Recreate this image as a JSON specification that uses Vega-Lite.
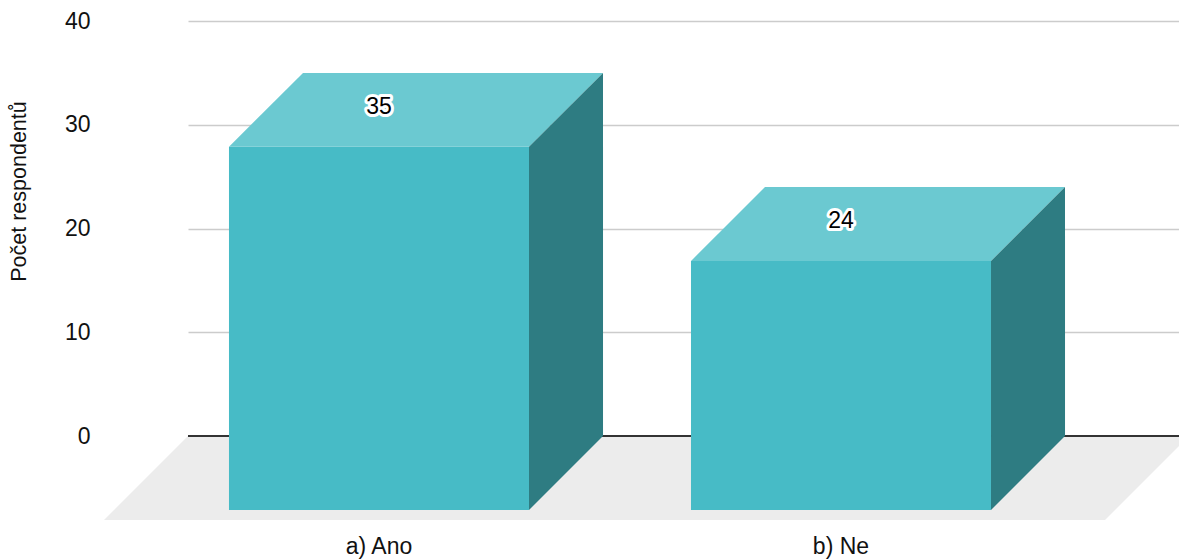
{
  "$schema": "https://vega.github.io/schema/vega-lite/v6.json",
  "width": 991,
  "height": 415,
  "autosize": "none",
  "padding": {"left": 188, "top": 21, "right": 0, "bottom": 124},
  "background": "white",
  "config": {
    "view": {"stroke": null},
    "font": "Liberation Sans",
    "axisY": {
      "grid": true,
      "gridColor": "#cccccc",
      "gridWidth": 1.5,
      "domain": false,
      "ticks": false,
      "tickCount": 4,
      "labelPadding": 98,
      "labelFontSize": 23,
      "labelColor": "#111111",
      "labelFont": "Liberation Sans",
      "titleFont": "Liberation Sans",
      "titleFontSize": 21.5,
      "titleFontWeight": "normal",
      "titleColor": "#111111",
      "titleX": -169,
      "titleY": 170,
      "titleAngle": -90,
      "titleAlign": "center",
      "titleBaseline": "middle"
    }
  },
  "data": {"values": [
    {"cat": "a) Ano", "value": 35},
    {"cat": "b) Ne", "value": 24}
  ]},
  "transform": [
    {"window": [{"op": "row_number", "as": "rn"}]},
    {"calculate": "datum.rn - 1", "as": "i"}
  ],
  "layer": [
    {
      "transform": [
        {"aggregate": [{"op": "count", "as": "n"}]},
        {"calculate": "[0,1,2,3]", "as": "k"},
        {"flatten": ["k"]},
        {"calculate": "[-0.5952, -0.4134, datum.n - 1 + 0.5714, datum.n - 1 + 0.7532][datum.k]", "as": "px"},
        {"calculate": "[-8.1, -8.1, -8.1, 0][datum.k]", "as": "py"},
        {"calculate": "[-8.1, 0, 0, 0][datum.k]", "as": "py2"}
      ],
      "mark": {"type": "area", "color": "#ececec"},
      "encoding": {
        "x": {"field": "px", "type": "quantitative", "scale": {"domain": [-0.4134, 1.7316], "nice": false, "zero": false}, "axis": null},
        "y": {"field": "py", "type": "quantitative", "scale": {"domain": [0, 40], "nice": false}, "title": "Počet respondentů"},
        "y2": {"field": "py2"}
      }
    },
    {
      "mark": {"type": "rule", "color": "#333333", "strokeWidth": 2},
      "encoding": {
        "y": {"datum": 0, "type": "quantitative", "scale": {"domain": [0, 40], "nice": false}, "title": "Počet respondentů"}
      }
    },
    {
      "transform": [
        {"calculate": "datum.i - 0.3247", "as": "px"},
        {"calculate": "datum.i + 0.3247", "as": "px2"},
        {"calculate": "datum.value - 7.13", "as": "py"},
        {"calculate": "-7.13", "as": "py2"}
      ],
      "mark": {"type": "rect", "color": "#47bbc6"},
      "encoding": {
        "x": {"field": "px", "type": "quantitative", "scale": {"domain": [-0.4134, 1.7316], "nice": false, "zero": false}, "axis": null},
        "x2": {"field": "px2"},
        "y": {"field": "py", "type": "quantitative", "scale": {"domain": [0, 40], "nice": false}, "title": "Počet respondentů"},
        "y2": {"field": "py2"}
      }
    },
    {
      "transform": [
        {"calculate": "[0,1,2,3]", "as": "k"},
        {"flatten": ["k"]},
        {"calculate": "datum.i + [-0.3247, -0.1645, 0.3247, 0.4849][datum.k]", "as": "px"},
        {"calculate": "datum.value - 7.13 + [0, 0, 0, 7.13][datum.k]", "as": "py"},
        {"calculate": "datum.value - [7.13, 0, 0, 0][datum.k]", "as": "py2"}
      ],
      "mark": {"type": "area", "color": "#6bc9d1"},
      "encoding": {
        "x": {"field": "px", "type": "quantitative", "scale": {"domain": [-0.4134, 1.7316], "nice": false, "zero": false}, "axis": null},
        "y": {"field": "py", "type": "quantitative", "scale": {"domain": [0, 40], "nice": false}, "title": "Počet respondentů"},
        "y2": {"field": "py2"},
        "detail": {"field": "cat", "type": "nominal"}
      }
    },
    {
      "transform": [
        {"calculate": "[0,1]", "as": "k"},
        {"flatten": ["k"]},
        {"calculate": "datum.i + [0.3247, 0.4849][datum.k]", "as": "px"},
        {"calculate": "[-7.13, 0][datum.k]", "as": "py"},
        {"calculate": "datum.value - [7.13, 0][datum.k]", "as": "py2"}
      ],
      "mark": {"type": "area", "color": "#2e7c82"},
      "encoding": {
        "x": {"field": "px", "type": "quantitative", "scale": {"domain": [-0.4134, 1.7316], "nice": false, "zero": false}, "axis": null},
        "y": {"field": "py", "type": "quantitative", "scale": {"domain": [0, 40], "nice": false}, "title": "Počet respondentů"},
        "y2": {"field": "py2"},
        "detail": {"field": "cat", "type": "nominal"}
      }
    },
    {
      "transform": [
        {"calculate": "datum.i", "as": "px"},
        {"calculate": "datum.value - 3.565", "as": "py"}
      ],
      "mark": {"type": "text", "fontSize": 23, "font": "Liberation Sans", "baseline": "middle", "dy": -3, "fill": "white", "stroke": "white", "strokeWidth": 6, "strokeJoin": "round"},
      "encoding": {
        "x": {"field": "px", "type": "quantitative", "scale": {"domain": [-0.4134, 1.7316], "nice": false, "zero": false}, "axis": null},
        "y": {"field": "py", "type": "quantitative", "scale": {"domain": [0, 40], "nice": false}, "title": "Počet respondentů"},
        "text": {"field": "value", "type": "quantitative"}
      }
    },
    {
      "transform": [
        {"calculate": "datum.i", "as": "px"},
        {"calculate": "datum.value - 3.565", "as": "py"}
      ],
      "mark": {"type": "text", "fontSize": 23, "font": "Liberation Sans", "baseline": "middle", "dy": -3, "color": "#000000"},
      "encoding": {
        "x": {"field": "px", "type": "quantitative", "scale": {"domain": [-0.4134, 1.7316], "nice": false, "zero": false}, "axis": null},
        "y": {"field": "py", "type": "quantitative", "scale": {"domain": [0, 40], "nice": false}, "title": "Počet respondentů"},
        "text": {"field": "value", "type": "quantitative"}
      }
    },
    {
      "transform": [
        {"calculate": "datum.i", "as": "px"},
        {"calculate": "-10.7", "as": "py"}
      ],
      "mark": {"type": "text", "fontSize": 23, "font": "Liberation Sans", "baseline": "middle", "color": "#111111"},
      "encoding": {
        "x": {"field": "px", "type": "quantitative", "scale": {"domain": [-0.4134, 1.7316], "nice": false, "zero": false}, "axis": null},
        "y": {"field": "py", "type": "quantitative", "scale": {"domain": [0, 40], "nice": false}, "title": "Počet respondentů"},
        "text": {"field": "cat", "type": "nominal"}
      }
    }
  ]
}
